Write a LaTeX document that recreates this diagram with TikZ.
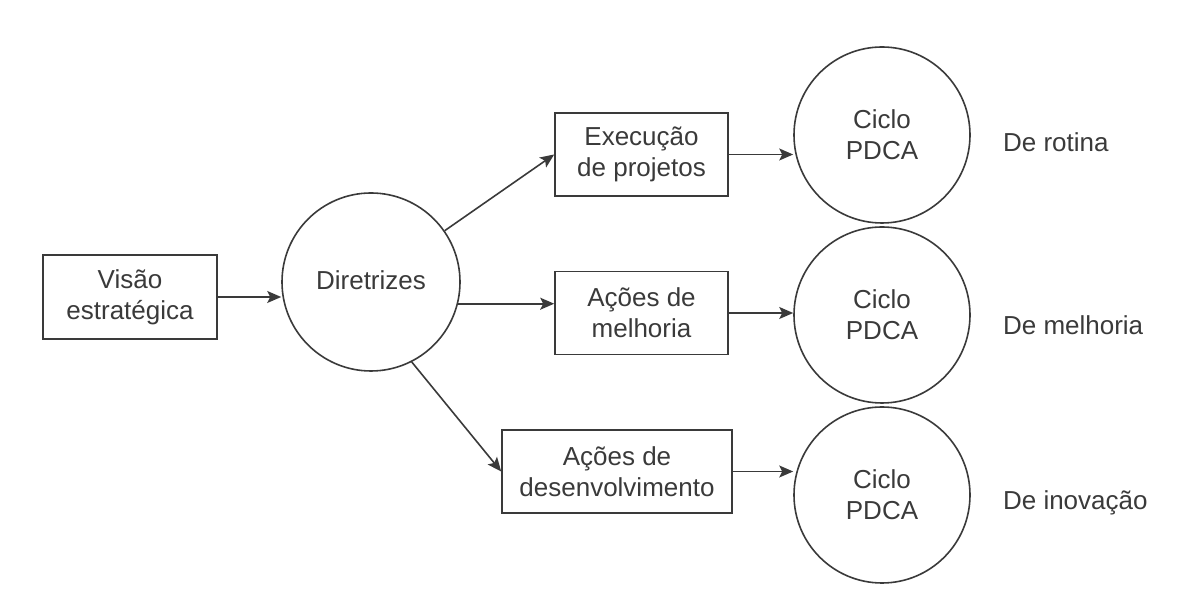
\documentclass[tikz,border=0pt]{standalone}
\usepackage{fontspec}
\setmainfont{Liberation Sans}
\usetikzlibrary{arrows.meta,positioning}
\definecolor{ink}{HTML}{3A3A3A}

\begin{document}
\begin{tikzpicture}[x=0.5pt,y=-0.5pt,every node/.style={font=\fontsize{13}{15.5}\selectfont,text=ink},
    box/.style={draw=ink,line width=.8pt,align=center,inner sep=0pt,minimum width=86.5pt,minimum height=41.5pt},
    cyc/.style={draw=ink,line width=.8pt,circle,align=center,inner sep=0pt,minimum size=88pt},
    arr/.style={draw=ink,line width=.8pt,-{Stealth[length=7pt,width=6pt,inset=1.5pt]}}]
      \useasboundingbox (0,0) rectangle (1179,613);
      \node[box,minimum width=87pt,minimum height=42pt] (vis) at (130,297) {Visão\\estratégica};
      \node[cyc,minimum size=89pt] (dir) at (371,282) {\raisebox{2pt}{Diretrizes}};
      \node[box] (exe) at (641.5,154.5) {Execução\\de projetos};
      \node[box] (mel) at (641.5,313) {Ações de\\melhoria};
      \node[box,minimum width=115pt] (des) at (617,471.5) {Ações de\\desenvolvimento};
      \node[cyc] (p1) at (882,135) {Ciclo\\PDCA};
      \node[cyc] (p2) at (882,315) {Ciclo\\PDCA};
      \node[cyc] (p3) at (882,495) {Ciclo\\PDCA};
      \node[anchor=west] (r1) at (996,142) {De rotina};
      \node[anchor=west] (r2) at (996,325) {De melhoria};
      \node[anchor=west] (r3) at (996,503) {De inovação};
      \draw[arr] (vis.east) -- (vis.east -| dir.west);
      \draw[arr] (dir) -- (exe.west);
      \draw[arr] (dir.-14) -- (dir.-14 -| mel.west);
      \draw[arr] (dir.-63) -- (des.west);
      \foreach \b/\c in {exe/p1,mel/p2,des/p3} \draw[arr] (\b.east) -- (\b.east -| \c.west);
    \end{tikzpicture}
\end{document}
